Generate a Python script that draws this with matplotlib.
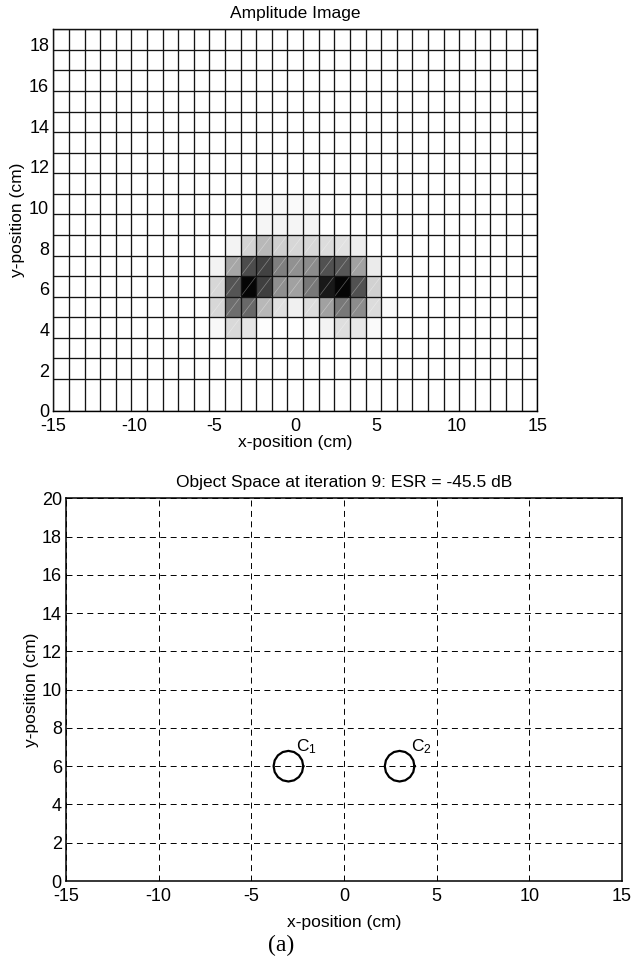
import numpy as np
import matplotlib
matplotlib.use("Agg")
import matplotlib.pyplot as plt

plt.rcParams['font.family'] = ['Liberation Sans', 'DejaVu Sans']
plt.rcParams['mathtext.fontset'] = 'custom'
plt.rcParams['mathtext.rm'] = 'Liberation Sans'
plt.rcParams['mathtext.it'] = 'Liberation Sans'
plt.rcParams['lines.scale_dashes'] = False
plt.rcParams['axes.unicode_minus'] = False

# ---------------- data ----------------
x_ticks = [-15, -10, -5, 0, 5, 10, 15]
y_ticks_top = [0, 2, 4, 6, 8, 10, 12, 14, 16, 18]
y_ticks_bottom = [0, 2, 4, 6, 8, 10, 12, 14, 16, 18, 20]

n_cols = 31
n_rows = 18
# amplitude (darkness) sub-block: rows 3..9 (bottom->top), columns 9..21
block_col_start = 9
block_row_start = 3
amp_block = [
    [0.00, 0.03, 0.15, 0.10, 0.01, 0.00, 0.00, 0.02, 0.05, 0.13, 0.09, 0.02, 0.00],  # row 3
    [0.00, 0.16, 0.57, 0.59, 0.28, 0.12, 0.06, 0.14, 0.37, 0.53, 0.45, 0.14, 0.02],  # row 4
    [0.00, 0.16, 0.67, 0.98, 0.75, 0.44, 0.37, 0.53, 0.90, 0.98, 0.68, 0.18, 0.00],  # row 5
    [0.00, 0.05, 0.35, 0.70, 0.74, 0.50, 0.43, 0.45, 0.68, 0.66, 0.37, 0.08, 0.00],  # row 6
    [0.00, 0.00, 0.05, 0.17, 0.28, 0.19, 0.16, 0.16, 0.14, 0.12, 0.07, 0.00, 0.00],  # row 7
    [0.00, 0.00, 0.00, 0.00, 0.04, 0.04, 0.04, 0.04, 0.00, 0.00, 0.00, 0.00, 0.00],  # row 8
    [0.00, 0.00, 0.00, 0.00, 0.02, 0.02, 0.02, 0.02, 0.00, 0.00, 0.00, 0.00, 0.00],  # row 9
]

x_edges = np.linspace(-15, 15, n_cols + 1)
y_edges = np.concatenate([[0.0], np.linspace(1.57, 18.77, n_rows)])

amp = np.zeros((n_rows, n_cols))
blk = np.array(amp_block)
amp[block_row_start:block_row_start + blk.shape[0],
    block_col_start:block_col_start + blk.shape[1]] = blk

# object space
obj_x = [-3.0, 3.0]
obj_y = [6.0, 6.0]
obj_r = [0.8, 0.8]
obj_labels = ["C$_1$", "C$_2$"]
label_dx = [0.42, 0.62]
label_dy = [0.8, 0.8]

TICK_FS = 13
TEXT_FS = 12.5

# ---------------- figure ----------------
fig = plt.figure(figsize=(6.33, 9.69), dpi=100)

# ---- top: amplitude image ----
ax1 = fig.add_axes([0.0842, 0.5759, 0.7646, 0.3939])
ax1.pcolormesh(x_edges, y_edges, amp, cmap='gray_r', vmin=0, vmax=1,
               edgecolors='none', shading='flat')
# rendering seams in shaded cells
for j in range(n_rows):
    for i in range(n_cols):
        if amp[j, i] > 0.1:
            ax1.plot([x_edges[i], x_edges[i + 1]], [y_edges[j], y_edges[j + 1]],
                     color='white', lw=0.5, alpha=0.35, zorder=3)
# cell edges (pixel-snapped lines)
for xe in x_edges:
    ax1.plot([xe, xe], [y_edges[0], y_edges[-1]], color='#141414', lw=0.95,
             solid_capstyle='butt', zorder=4, snap=True)
for ye in y_edges:
    ax1.plot([x_edges[0], x_edges[-1]], [ye, ye], color='#141414', lw=0.95,
             solid_capstyle='butt', zorder=4, snap=True)
ax1.set_xlim(-15, 15)
ax1.set_ylim(0, 18.77)
ax1.set_xticks(x_ticks)
ax1.set_yticks(y_ticks_top)
ax1.tick_params(direction='in', length=0, labelsize=TICK_FS)
ax1.tick_params(axis='x', pad=5)
ax1.tick_params(axis='y', pad=3)
for s in ax1.spines.values():
    s.set_linewidth(1.0)
ax1.set_title("Amplitude Image", fontsize=TEXT_FS, pad=8)
ax1.set_xlabel("x-position (cm)", fontsize=TEXT_FS, labelpad=0)
ax1.set_ylabel("y-position (cm)", fontsize=TEXT_FS, labelpad=3)

# ---- bottom: object space ----
ax2 = fig.add_axes([0.1043, 0.0908, 0.8783, 0.3950])
ax2.set_xlim(-15, 15)
ax2.set_ylim(0, 20)
ax2.set_xticks(x_ticks)
ax2.set_yticks(y_ticks_bottom)
ax2.grid(True, color='black', linestyle=(0, (4.3, 3.2)), linewidth=0.7)
ax2.set_axisbelow(True)
theta = np.linspace(0, 2 * np.pi, 17)
for cx, cy, r, lab, dx, dy in zip(obj_x, obj_y, obj_r, obj_labels, label_dx, label_dy):
    ax2.plot(cx + r * np.cos(theta), cy + r * np.sin(theta), color='black', lw=1.6, zorder=4)
    ax2.text(cx + dx, cy + dy, lab, fontsize=TEXT_FS, ha='left', va='baseline', zorder=5)
ax2.tick_params(direction='in', length=0, labelsize=TICK_FS)
ax2.tick_params(axis='x', pad=5)
ax2.tick_params(axis='y', pad=3)
for s in ax2.spines.values():
    s.set_linewidth(1.1)
ax2.set_title("Object Space at iteration 9: ESR = -45.5 dB", fontsize=TEXT_FS, pad=8)
ax2.set_xlabel("x-position (cm)", fontsize=TEXT_FS, labelpad=7)
ax2.set_ylabel("y-position (cm)", fontsize=TEXT_FS, labelpad=2)

fig.text(0.444, 0.024, "(a)", fontsize=17, family=['Liberation Serif'], ha='center', va='center')

fig.savefig("out.png", dpi=100)
